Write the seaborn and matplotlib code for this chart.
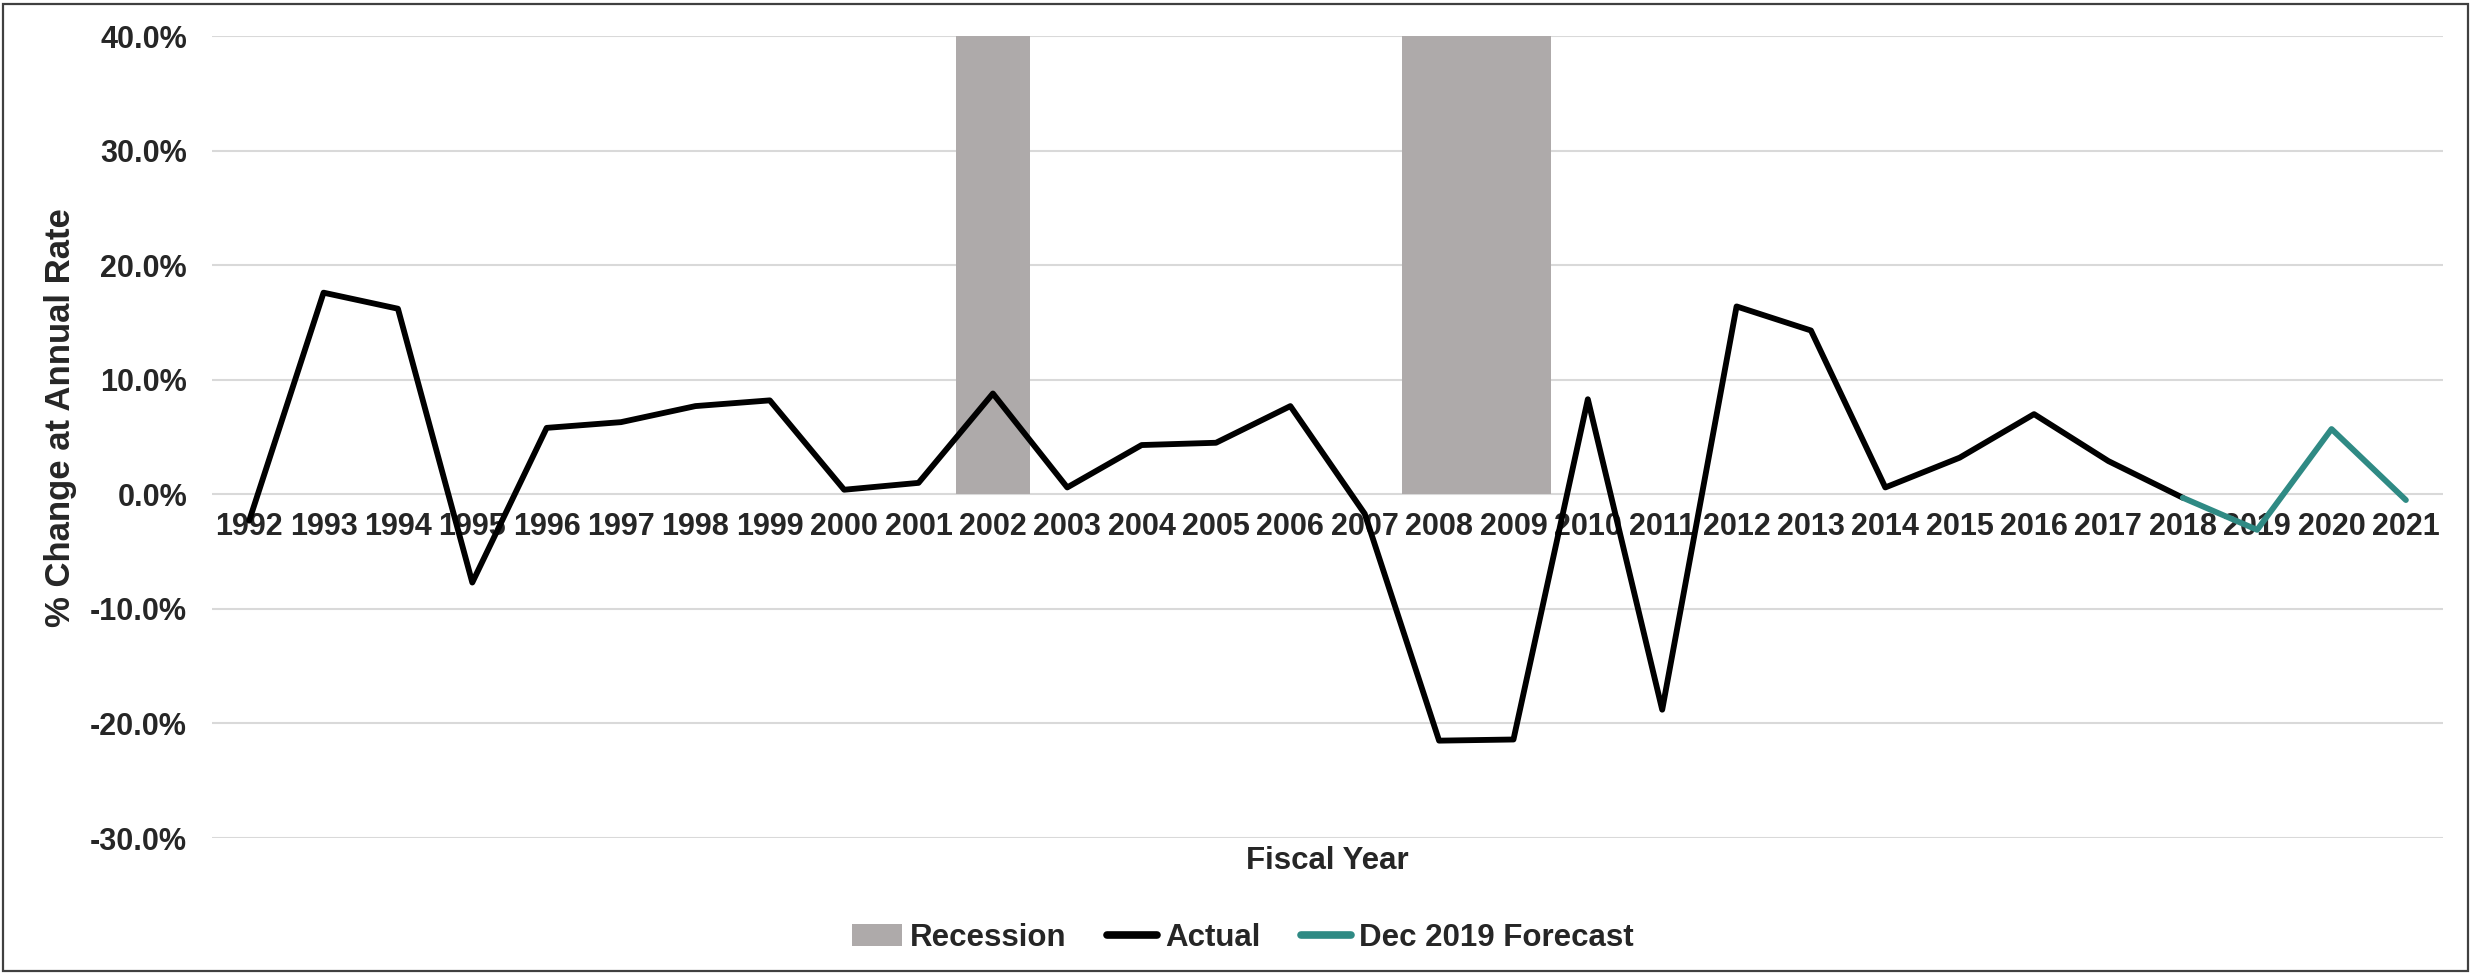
import matplotlib
matplotlib.use("Agg")
import matplotlib.pyplot as plt
import seaborn as sns
import pandas as pd
import numpy as np
from matplotlib.ticker import PercentFormatter
from matplotlib.patches import Patch, Rectangle
from matplotlib.lines import Line2D

# ---------------- data ----------------
years = ["1992", "1993", "1994", "1995", "1996", "1997", "1998", "1999", "2000", "2001",
         "2002", "2003", "2004", "2005", "2006", "2007", "2008", "2009", "2010", "2011",
         "2012", "2013", "2014", "2015", "2016", "2017", "2018", "2019", "2020", "2021"]
recession = [0, 0, 0, 0, 0, 0, 0, 0, 0, 0,
             0.40, 0, 0, 0, 0, 0, 0.40, 0.40, 0, 0,
             0, 0, 0, 0, 0, 0, 0, 0, 0, 0]
actual_years = years[:27]  # 1992-2018
actual = [-0.023, 0.176, 0.162, -0.077, 0.058, 0.063, 0.077, 0.082, 0.004, 0.010,
          0.088, 0.006, 0.043, 0.045, 0.077, -0.017, -0.215, -0.214, 0.083, -0.188,
          0.164, 0.143, 0.006, 0.032, 0.070, 0.029, -0.003]
forecast_years = ["2018", "2019", "2020", "2021"]
forecast = [-0.003, -0.031, 0.057, -0.005]

GRAY = "#AEAAAA"
TEAL = "#2F8A84"
NARROW = ["Liberation Sans Narrow", "Liberation Sans", "DejaVu Sans"]
WIDE = ["Liberation Sans", "DejaVu Sans"]

sns.set_style("white")
plt.rcParams["axes.unicode_minus"] = False
plt.rcParams["font.family"] = NARROW

fig = plt.figure(figsize=(24.71, 9.74), dpi=100)
ax = fig.add_axes([0.0858, 0.1396, 0.9029, 0.8234])

pos_of = {y: i for i, y in enumerate(years)}

bar_df = pd.DataFrame({"year": years, "value": recession})
sns.barplot(data=bar_df, x="year", y="value", order=years, color=GRAY,
            width=1.0, linewidth=0, saturation=1, ax=ax, zorder=1)

line_df = pd.concat([
    pd.DataFrame({"pos": [pos_of[y] for y in actual_years], "value": actual, "series": "Actual"}),
    pd.DataFrame({"pos": [pos_of[y] for y in forecast_years], "value": forecast, "series": "Dec 2019 Forecast"}),
], ignore_index=True)
sns.lineplot(data=line_df, x="pos", y="value", hue="series",
             palette={"Actual": "black", "Dec 2019 Forecast": TEAL},
             linewidth=4.2, legend=False, ax=ax, zorder=4, sort=True)

ax.set_xlim(-0.5, len(years) - 0.5)
ax.set_ylim(-0.30, 0.40)
ax.set_yticks(np.arange(-0.30, 0.401, 0.10))
ax.yaxis.set_major_formatter(PercentFormatter(xmax=1, decimals=1))
ax.grid(axis="y", color="#D9D9D9", linewidth=1.5)
ax.grid(axis="x", visible=False)
ax.set_axisbelow(True)

for s in ["top", "right", "left"]:
    ax.spines[s].set_visible(False)
ax.spines["bottom"].set_position(("data", 0))
ax.spines["bottom"].set_visible(False)

ax.set_xticks(range(len(years)))
ax.set_xticklabels(years)
ax.tick_params(axis="x", length=0, pad=13, labelsize=22)
ax.tick_params(axis="y", length=0, pad=18, labelsize=22)
for lab in ax.get_xticklabels() + ax.get_yticklabels():
    lab.set_fontweight("bold")
    lab.set_family(NARROW)

ax.set_xlabel("Fiscal Year", fontsize=22.5, fontweight="bold", family=NARROW)
ax.xaxis.set_label_coords(0.5, -0.029)
ax.xaxis.label.set_va("center")
ax.set_ylabel("% Change at Annual Rate", fontsize=25, fontweight="bold", family=WIDE)
ax.yaxis.set_label_coords(-0.068, 0.524)
ax.yaxis.label.set_va("center")

handles = [Patch(facecolor=GRAY, edgecolor="none", label="Recession"),
           Line2D([], [], color="black", lw=5.5, label="Actual", solid_capstyle="round"),
           Line2D([], [], color=TEAL, lw=5.5, label="Dec 2019 Forecast", solid_capstyle="round")]
fig.legend(handles=handles, loc="center", bbox_to_anchor=(0.503, 0.037), ncol=3,
           frameon=False, prop={"family": NARROW, "weight": "bold", "size": 22.5},
           handlelength=1.6, handletextpad=0.25, columnspacing=1.3)

fig.patches.append(Rectangle((0.0012, 0.003), 0.9976, 0.993, transform=fig.transFigure,
                             fill=False, edgecolor="#404040", linewidth=1.6, zorder=10))

fig.savefig("out.png", dpi=100)
